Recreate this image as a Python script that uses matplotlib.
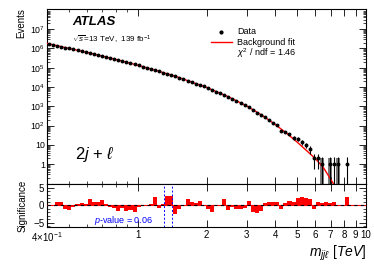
import numpy as np
import matplotlib
matplotlib.use('Agg')
import matplotlib.pyplot as plt
from matplotlib.ticker import FixedLocator, FixedFormatter, NullFormatter, MultipleLocator

plt.rcParams['font.family'] = ['Liberation Sans', 'DejaVu Sans']
plt.rcParams['mathtext.fontset'] = 'custom'
plt.rcParams['mathtext.rm'] = 'Liberation Sans'
plt.rcParams['mathtext.it'] = 'Liberation Sans:italic'
plt.rcParams['mathtext.bf'] = 'Liberation Sans:bold'

# ---------------- data ----------------
bin_edges = [0.400, 0.417, 0.434, 0.452, 0.471, 0.491, 0.512, 0.533, 0.556, 0.579,
             0.603, 0.628, 0.655, 0.682, 0.711, 0.741, 0.772, 0.804, 0.838, 0.873,
             0.910, 0.948, 0.988, 1.029, 1.073, 1.118, 1.165, 1.214, 1.265, 1.318,
             1.373, 1.431, 1.491, 1.553, 1.619, 1.687, 1.757, 1.831, 1.908, 1.988,
             2.072, 2.159, 2.249, 2.344, 2.442, 2.545, 2.652, 2.763, 2.879, 3.000,
             3.126, 3.257, 3.394, 3.537, 3.685, 3.840, 4.001, 4.169, 4.344, 4.527,
             4.717, 4.915, 5.122, 5.337, 5.561, 5.794, 6.038, 6.291, 6.556, 6.831,
             7.118, 7.417, 7.729, 8.053, 8.392]

data_counts = [1729700, 1549750, 1381175, 1241114, 1108735, 993704, 892528, 800179, 718593, 643241,
               572360, 507712, 451672, 400885, 356179, 315663, 280523, 247104, 218626, 192210,
               168383, 148228, 130819, 113899, 99006, 86159, 75429, 64796, 56171, 48850,
               42051, 35228, 30226, 25452, 21648, 18134, 15186, 12836, 10669, 8756,
               7020, 5817, 4740, 3955, 3046, 2435, 1886, 1471, 1153, 940,
               621, 452, 340, 276, 205, 145, 104, 55, 48, 37,
               24, 20, 14, 10, 6, 2, 2, 1, 0, 1,
               1, 1, 0, 1]

significance = [-0.2, -0.2, 1.0, 1.0, -1.2, -1.3, -0.5, 0.2, 0.7, 0.3,
                1.8, 1.0, 1.0, 1.4, 0.3, -0.6, -0.9, -1.8, -0.8, -1.8,
                -1.5, -2.0, -0.5, -0.3, -0.3, 0.2, 2.3, -0.8, 0.3, 2.5,
                2.7, -2.5, -1.0, -0.3, 1.7, 1.0, 0.7, 1.2, -0.3, -1.0,
                -2.0, -0.3, 0.0, 1.7, -1.5, -0.5, -1.0, -1.0, -0.8, 1.2,
                -2.0, -2.2, -1.7, 0.5, 1.0, 0.8, 1.0, -1.2, 0.5, 1.3,
                1.0, 2.0, 2.2, 2.0, 1.8, -1.0, 1.0, 0.7, 1.0, 0.5,
                1.0, 0.0, 0.0, 2.2]

fit_mass = [0.40, 0.50, 0.60, 0.70, 0.80, 0.90, 1.00, 1.25, 1.50, 2.00, 2.50,
            3.00, 3.50, 4.00, 4.50, 5.00, 5.50, 6.00, 6.50, 7.00, 7.25]
fit_events = [1.82e6, 1.0e6, 6.17e5, 3.95e5, 2.69e5, 1.87e5, 1.35e5, 6.31e4, 3.24e4, 9550, 3090,
              1050, 347, 115, 39.5, 13.8, 5.0, 1.95, 0.68, 0.17, 0.085]

gray_bins = [67, 69, 71]          # bins drawn with a grey band
gray_top = 2.0

pvalue_window = [1.30, 1.41]
pvalue_text = r'$p$-value = 0.06'
chi2_text = r'$\chi^{2}$ / ndf = 1.46'

# ---------------- figure ----------------
fig = plt.figure(figsize=(3.74, 2.64), dpi=100)
L, R = 47 / 374, 366 / 374
ax = fig.add_axes([L, 1 - 184 / 264, R - L, (184 - 9) / 264])
axr = fig.add_axes([L, 1 - 227 / 264, R - L, (227 - 184) / 264], sharex=ax)

edges = np.array(bin_edges)
centers = np.sqrt(edges[:-1] * edges[1:])
widths = np.diff(edges)
counts = np.array(data_counts, dtype=float)

# grey bands
for b in gray_bins:
    ax.bar(edges[b], gray_top, width=widths[b], bottom=1e-3, align='edge',
           color='#7a7a7a', edgecolor='none', zorder=1)

# fit
ax.plot(fit_mass, fit_events, color='red', lw=1.0, zorder=3)

# data
mask = counts > 0
yc = counts[mask]
err = np.sqrt(yc)
lo = np.where(yc <= 1, yc * 0.999, err)
hi = np.where(yc <= 1, 1.3, err)
ax.errorbar(centers[mask], yc, yerr=[lo, hi], fmt='o', ms=1.8, color='black',
            elinewidth=0.8, capsize=0, zorder=4)

ax.set_xscale('log')
ax.set_yscale('log')
ax.set_xlim(0.4, 10)
ax.set_ylim(0.095, 1.1e8)

yt = [1, 10, 1e2, 1e3, 1e4, 1e5, 1e6, 1e7]
ax.yaxis.set_major_locator(FixedLocator(yt))
ax.yaxis.set_major_formatter(FixedFormatter(['1', '10', '$10^{2}$', '$10^{3}$', '$10^{4}$',
                                             '$10^{5}$', '$10^{6}$', '$10^{7}$']))
yminor = [k * 10.0 ** e for e in range(-1, 8) for k in range(2, 10)]
ax.yaxis.set_minor_locator(FixedLocator(yminor))
ax.yaxis.set_minor_formatter(NullFormatter())

xmaj = [0.4, 1, 2, 3, 4, 5, 6, 7, 8, 9, 10]
xmin = [0.5, 0.6, 0.7, 0.8, 0.9]
for a in (ax, axr):
    a.xaxis.set_major_locator(FixedLocator(xmaj))
    a.xaxis.set_minor_locator(FixedLocator(xmin))
    a.tick_params(which='both', direction='in', top=True, right=True, labelsize=7, pad=2)
    a.tick_params(which='major', length=5, width=0.6)
    a.tick_params(which='minor', length=2.5, width=0.5)
    for s in a.spines.values():
        s.set_linewidth(0.8)
ax.tick_params(labelbottom=False)
ax.tick_params(axis='y', labelsize=6.3, pad=1.5)
axr.xaxis.set_major_formatter(FixedFormatter([r'4$\times$10$^{-1}$', '1', '2', '3', '4', '5',
                                              '6', '7', '8', '9', '10']))
axr.xaxis.set_minor_formatter(NullFormatter())

# significance panel
axr.bar(edges[:-1], significance, width=widths, align='edge', color='red',
        edgecolor='none', zorder=2)
axr.axhline(0, color='red', lw=0.8, zorder=3)
axr.axhline(0, color='black', lw=0.8, ls=(0, (3, 3)), zorder=4)
for xv in pvalue_window:
    axr.axvline(xv, color='blue', lw=0.7, ls=(0, (2, 2)), zorder=5)
axr.set_ylim(-6.2, 6)
axr.yaxis.set_major_locator(FixedLocator([-5, 0, 5]))
axr.yaxis.set_minor_locator(MultipleLocator(1))
axr.text(1.17, -4.4, pvalue_text, color='blue', fontsize=6.5, ha='right', va='center')

# labels
fig.text(21 / 374, 1 - 8 / 264, 'Events', rotation=90, ha='center', va='top', fontsize=7)
fig.text(23 / 374, 1 - 206 / 264, 'Significance', rotation=90, ha='center', va='center', fontsize=7)
fig.text(366 / 374, 1 - 253 / 264, r'$m_{jj\ell}$ [$TeV$]', ha='right', va='center', fontsize=10)

# annotations
ax.text(0.078, 0.926, 'ATLAS', transform=ax.transAxes, fontsize=9.5, fontweight='bold',
        fontstyle='italic', ha='left', va='center')
ax.text(0.078, 0.823, r'$\sqrt{s}$=13 TeV,  139 fb$^{-1}$', transform=ax.transAxes,
        fontsize=5.8, ha='left', va='center')
ax.text(0.088, 0.171, r'2$j$ + $\ell$', transform=ax.transAxes, fontsize=12,
        ha='left', va='center')

# legend
ax.plot([0.545], [0.869], 'o', ms=2.0, color='black', transform=ax.transAxes, clip_on=False)
ax.text(0.596, 0.869, 'Data', transform=ax.transAxes, fontsize=6.5, va='center')
ax.plot([0.514, 0.58], [0.811, 0.811], color='red', lw=1.0, transform=ax.transAxes)
ax.text(0.596, 0.808, 'Background fit', transform=ax.transAxes, fontsize=6.5, va='center')
ax.text(0.596, 0.748, chi2_text, transform=ax.transAxes, fontsize=6.5, va='center')

fig.savefig('out.png', dpi=100)
